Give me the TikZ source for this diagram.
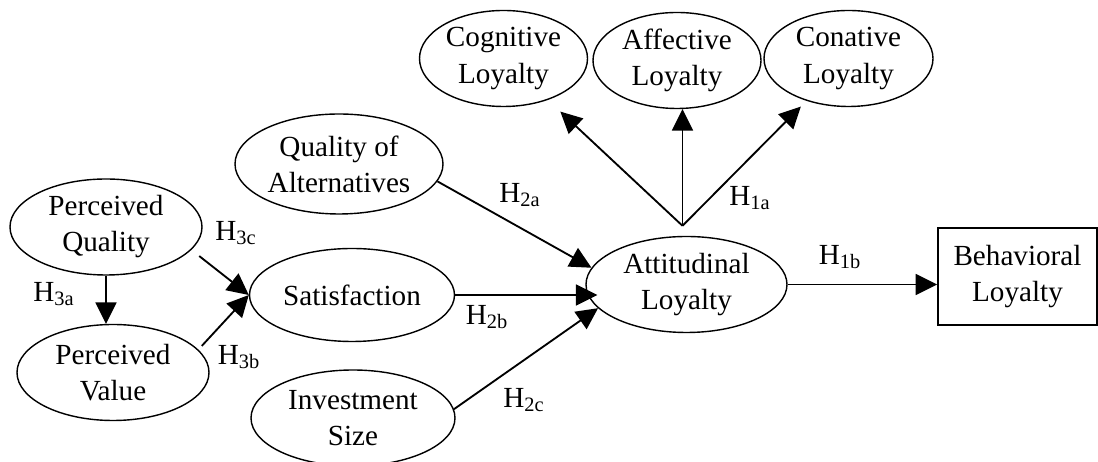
\documentclass[tikz,border=0pt]{standalone}
\usepackage{fontspec}
\setmainfont{Liberation Serif}
\usetikzlibrary{shapes.geometric,arrows.meta}

\begin{document}
\begin{tikzpicture}[
        font=\fontsize{16.6}{20.5}\selectfont,
        latent/.style={ellipse, draw, line width=0.8pt, inner sep=0pt, align=center,
            minimum width=#1, minimum height=1.92cm},
        latent/.default=3.36cm,
        observed/.style={rectangle, draw, line width=0.9pt, inner sep=0pt, align=center,
            minimum width=3.18cm, minimum height=1.94cm},
        arr/.style={line width=1.05pt, -{Triangle[length=0.43cm,width=0.42cm]}},
        hyp/.style={inner sep=0pt}
    ]
    \useasboundingbox (0,0) rectangle (21.96,9.24);

    % constructs
    \node[latent=3.84cm] (pq) at (2.12,4.70) {Perceived\\Quality};
    \node[latent=3.84cm] (pv) at (2.26,1.79) {Perceived\\Value};
    \node[latent=4.10cm, minimum height=1.86cm] (sat) at (7.04,3.34) {Satisfaction};
    \node[latent=4.16cm, minimum height=2.0cm] (qoa) at (6.78,5.96) {Quality of\\Alternatives};
    \node[latent=4.08cm] (is) at (7.06,0.88) {Investment\\Size};
    \node[latent=4.02cm] (att) at (13.73,3.55) {Attitudinal\\Loyalty};
    \node[latent] (cog) at (10.07,8.07) {Cognitive\\Loyalty};
    \node[latent] (aff) at (13.54,8.03) {Affective\\Loyalty};
    \node[latent=3.38cm] (con) at (16.97,8.07) {Conative\\Loyalty};
    \node[observed] (beh) at (20.35,3.71) {Behavioral\\Loyalty};

    \coordinate (apex) at ([xshift=-0.08cm, yshift=0.2cm]att.north);

    % paths
    \draw[arr] (pq.south) -- (pq.south |- pv.north);
    \draw[arr, shorten <=0.2cm] (pq.-15) -- (sat.west);
    \draw[arr, shorten <=0.1cm] (pv.15) -- (sat.west);
    \draw[arr, shorten >=-0.24cm] (sat.east) -- (sat.east -| att.west);
    \draw[arr] (qoa.-10) -- (att.170);
    \draw[arr] (is.5) -- (att.195);
    \draw[arr] (att.east) -- (att.east -| beh.west);
    \draw[arr, shorten >=0.34cm] (apex) -- (cog);
    \draw[arr] (apex) -- (apex |- aff.south);
    \draw[arr, shorten >=0.16cm] (apex) -- (con);

    % hypotheses
    \node[hyp] (h3a) at (1.08,3.36) {H\textsubscript{3a}};
    \node[hyp] (h3c) at (4.72,4.58) {H\textsubscript{3c}};
    \node[hyp] (h3b) at (4.78,2.10) {H\textsubscript{3b}};
    \node[hyp] (h2a) at (10.40,5.34) {H\textsubscript{2a}};
    \node[hyp] (h2b) at (9.74,2.90) {H\textsubscript{2b}};
    \node[hyp] (h2c) at (10.48,1.24) {H\textsubscript{2c}};
    \node[hyp] (h1a) at (15.00,5.28) {H\textsubscript{1a}};
    \node[hyp] (h1b) at (16.80,4.10) {H\textsubscript{1b}};
\end{tikzpicture}
\end{document}
